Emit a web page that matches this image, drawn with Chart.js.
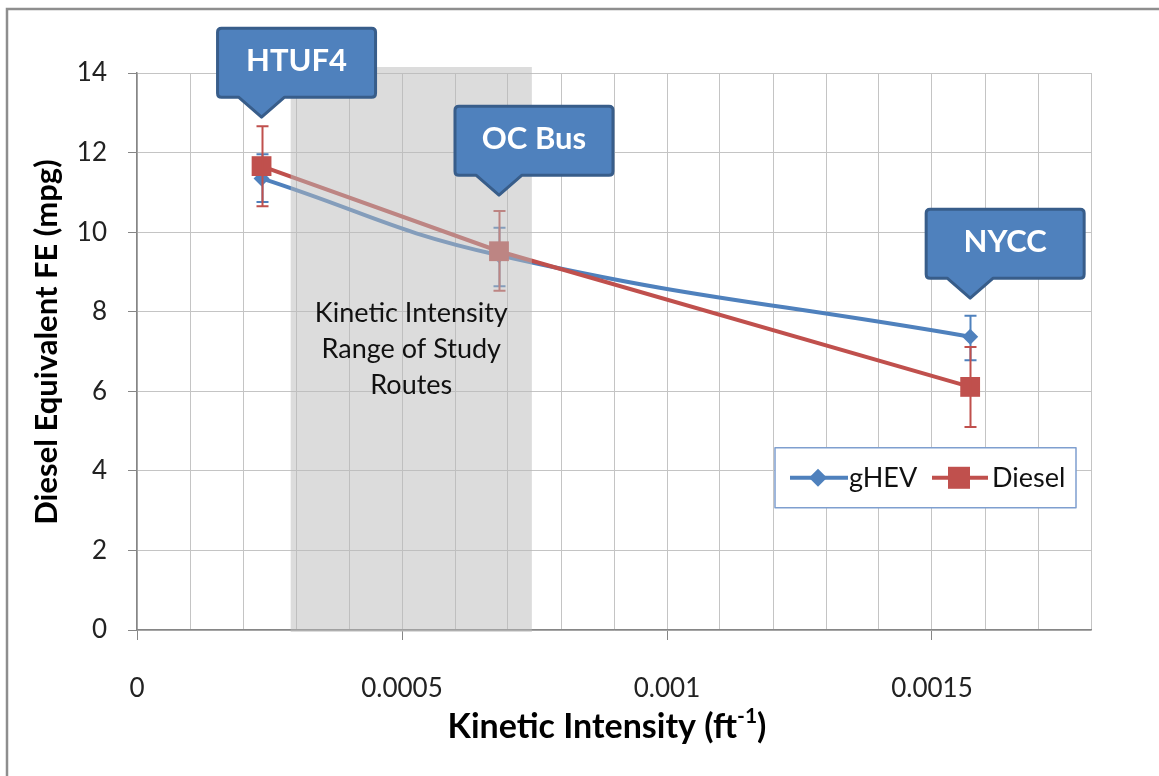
<!DOCTYPE html>
<html>
<head>
<meta charset="utf-8">
<script src="https://cdn.jsdelivr.net/npm/chart.js@4/dist/chart.umd.min.js"></script>
<style>
  html, body { margin: 0; padding: 0; background: #ffffff; }
  #wrap { width: 1159px; height: 776px; }
</style>
</head>
<body>
<div id="wrap"><canvas id="c" width="1159" height="776"></canvas></div>
<script>
// ---- Data ----
const routes = ['HTUF4', 'OC Bus', 'NYCC'];
const kineticIntensity = [0.000235, 0.000683, 0.001572];
const gHEV = [11.35, 9.42, 7.37];
const gHEVHigh = [11.96, 10.11, 7.90];
const gHEVLow = [10.76, 8.64, 6.78];
const diesel = [11.66, 9.52, 6.11];
const dieselHigh = [12.66, 10.53, 7.11];
const dieselLow = [10.65, 8.53, 5.10];
const calloutTip = [12.89, 10.93, 8.34];
const studyRange = [0.00029, 0.000745];
const studyRangeLabel = ['Kinetic Intensity', 'Range of Study', 'Routes'];
const xTickValues = [0, 0.0005, 0.001, 0.0015];
const xTickLabels = ['0', '0.0005', '0.001', '0.0015'];
const seriesNames = ['gHEV', 'Diesel'];

// ---- Styles ----
const BLUE = '#4f81bd';
const RED = '#c0504d';
const FONT = 'Lato, "Open Sans", sans-serif';
const GRID = '#c4c4c4';
const AXIS = '#868686';

const toPts = (ys) => kineticIntensity.map((x, i) => ({ x: x, y: ys[i] }));

const errorBars = {
  0: { hi: gHEVHigh, lo: gHEVLow, color: BLUE },
  1: { hi: dieselHigh, lo: dieselLow, color: RED }
};

const customPlugin = {
  id: 'custom',
  beforeDraw(chart) {
    const ctx = chart.ctx;
    ctx.save();
    ctx.fillStyle = '#ffffff';
    ctx.fillRect(0, 0, chart.width, chart.height);
    ctx.strokeStyle = '#8e8e8e';
    ctx.lineWidth = 2.5;
    ctx.beginPath();
    ctx.moveTo(7, chart.height);
    ctx.lineTo(7, 9);
    ctx.lineTo(chart.width, 9);
    ctx.stroke();
    ctx.restore();
  },
  afterDatasetDraw(chart, args) {
    const eb = errorBars[args.index];
    if (!eb) return;
    const ctx = chart.ctx, xs = chart.scales.x, ys = chart.scales.y;
    ctx.save();
    ctx.strokeStyle = eb.color;
    ctx.lineWidth = 2;
    kineticIntensity.forEach((xv, i) => {
      const px = Math.round(xs.getPixelForValue(xv)) + 0.5;
      const yh = ys.getPixelForValue(eb.hi[i]);
      const yl = ys.getPixelForValue(eb.lo[i]);
      ctx.beginPath();
      ctx.moveTo(px, yh); ctx.lineTo(px, yl);
      ctx.moveTo(px - 6, yh); ctx.lineTo(px + 6, yh);
      ctx.moveTo(px - 6, yl); ctx.lineTo(px + 6, yl);
      ctx.stroke();
    });
    ctx.restore();
  },
  afterDatasetsDraw(chart) {
    const ctx = chart.ctx, xs = chart.scales.x, ys = chart.scales.y;
    const l = xs.getPixelForValue(studyRange[0]);
    const r = xs.getPixelForValue(studyRange[1]);
    const t = ys.getPixelForValue(14) - 6;
    const b = ys.getPixelForValue(0) + 2;
    ctx.save();
    ctx.fillStyle = 'rgba(186,186,186,0.5)';
    ctx.fillRect(l, t, r - l, b - t);
    ctx.restore();
  },
  afterDraw(chart) {
    const ctx = chart.ctx, xs = chart.scales.x, ys = chart.scales.y, ca = chart.chartArea;
    ctx.save();
    // study range label
    const cx = xs.getPixelForValue((studyRange[0] + studyRange[1]) / 2);
    const cy = ys.getPixelForValue(7.95);
    ctx.fillStyle = '#111111';
    ctx.font = '27px ' + FONT;
    ctx.textAlign = 'center';
    ctx.textBaseline = 'middle';
    studyRangeLabel.forEach((s, i) => ctx.fillText(s, cx, cy + i * 36));

    // callouts
    routes.forEach((name, i) => {
      const tipX = xs.getPixelForValue(kineticIntensity[i]);
      const tipY = ys.getPixelForValue(calloutTip[i]);
      const w = 158, h = 69, ptr = 20, half = 23, offL = 44, rr = 4;
      const left = tipX - offL, right = left + w, bottom = tipY - ptr, top = bottom - h;
      ctx.beginPath();
      ctx.moveTo(left + rr, top);
      ctx.lineTo(right - rr, top);
      ctx.quadraticCurveTo(right, top, right, top + rr);
      ctx.lineTo(right, bottom - rr);
      ctx.quadraticCurveTo(right, bottom, right - rr, bottom);
      ctx.lineTo(tipX + half, bottom);
      ctx.lineTo(tipX, tipY);
      ctx.lineTo(tipX - half, bottom);
      ctx.lineTo(left + rr, bottom);
      ctx.quadraticCurveTo(left, bottom, left, bottom - rr);
      ctx.lineTo(left, top + rr);
      ctx.quadraticCurveTo(left, top, left + rr, top);
      ctx.closePath();
      ctx.fillStyle = BLUE;
      ctx.fill();
      ctx.strokeStyle = '#385d8a';
      ctx.lineWidth = 3;
      ctx.lineJoin = 'round';
      ctx.stroke();
      ctx.fillStyle = '#ffffff';
      ctx.font = 'bold 31px ' + FONT;
      ctx.textAlign = 'center';
      ctx.textBaseline = 'middle';
      ctx.fillText(name, left + w / 2, top + h / 2 - 2);
    });

    // legend
    const lgR = ca.right - 15, lgL = lgR - 301, lgT = ys.getPixelForValue(4.58), lgH = 60;
    ctx.fillStyle = '#ffffff';
    ctx.fillRect(lgL, lgT, lgR - lgL, lgH);
    ctx.strokeStyle = '#7f9fcf';
    ctx.lineWidth = 1.5;
    ctx.strokeRect(lgL, lgT, lgR - lgL, lgH);
    const ly = lgT + lgH / 2;
    ctx.font = '27px ' + FONT;
    ctx.textAlign = 'left';
    ctx.textBaseline = 'middle';
    // gHEV
    ctx.strokeStyle = BLUE; ctx.lineWidth = 4;
    ctx.beginPath(); ctx.moveTo(lgL + 15, ly); ctx.lineTo(lgL + 73, ly); ctx.stroke();
    ctx.fillStyle = BLUE;
    ctx.beginPath();
    const dx = lgL + 43;
    ctx.moveTo(dx, ly - 9); ctx.lineTo(dx + 9, ly); ctx.lineTo(dx, ly + 9); ctx.lineTo(dx - 9, ly); ctx.closePath(); ctx.fill();
    ctx.fillStyle = '#111111';
    ctx.fillText(seriesNames[0], lgL + 74, ly + 1);
    // Diesel
    ctx.strokeStyle = RED;
    ctx.beginPath(); ctx.moveTo(lgL + 157, ly); ctx.lineTo(lgL + 213, ly); ctx.stroke();
    ctx.fillStyle = RED;
    ctx.fillRect(lgL + 173, ly - 11, 22, 22);
    ctx.fillStyle = '#111111';
    ctx.fillText(seriesNames[1], lgL + 217, ly + 1);

    // axis titles
    ctx.fillStyle = '#000000';
    ctx.font = 'bold 31px ' + FONT;
    ctx.textAlign = 'center';
    ctx.textBaseline = 'middle';
    ctx.save();
    ctx.translate(47, 342);
    ctx.rotate(-Math.PI / 2);
    ctx.fillText('Diesel Equivalent FE (mpg)', 0, 0);
    ctx.restore();

    const main = 'Kinetic Intensity (ft', sup = '-1', close = ')';
    ctx.font = 'bold 34px ' + FONT;
    const wMain = ctx.measureText(main).width;
    const wClose = ctx.measureText(close).width;
    ctx.font = 'bold 21px ' + FONT;
    const wSup = ctx.measureText(sup).width;
    const total = wMain + wSup + wClose;
    let x0 = 607 - total / 2;
    const ty = 727;
    ctx.textAlign = 'left';
    ctx.font = 'bold 34px ' + FONT;
    ctx.fillText(main, x0, ty);
    ctx.font = 'bold 21px ' + FONT;
    ctx.fillText(sup, x0 + wMain, ty - 11);
    ctx.font = 'bold 34px ' + FONT;
    ctx.fillText(close, x0 + wMain + wSup, ty);
    ctx.restore();
  }
};

Chart.defaults.font.family = FONT;

new Chart(document.getElementById('c'), {
  type: 'line',
  data: {
    datasets: [
      {
        label: seriesNames[0],
        data: toPts(gHEV),
        borderColor: BLUE,
        backgroundColor: BLUE,
        borderWidth: 4,
        pointStyle: 'rectRot',
        pointRadius: 8,
        pointBorderWidth: 0,
        tension: 0.45,
        order: 2
      },
      {
        label: seriesNames[1],
        data: toPts(diesel),
        borderColor: RED,
        backgroundColor: RED,
        borderWidth: 4,
        pointStyle: 'rect',
        pointRadius: 14,
        pointBorderWidth: 0,
        tension: 0,
        order: 1
      }
    ]
  },
  options: {
    responsive: false,
    devicePixelRatio: 1,
    animation: false,
    layout: { padding: { top: 73, right: 68, left: 0, bottom: 0 } },
    plugins: { legend: { display: false }, tooltip: { enabled: false } },
    scales: {
      x: {
        type: 'linear',
        min: 0,
        max: 0.0018,
        afterFit(s) { s.height = 146; },
        ticks: {
          stepSize: 0.0001,
          autoSkip: false,
          maxRotation: 0,
          padding: 33,
          color: '#222222',
          font: { size: 26, family: FONT },
          callback(v) {
            const i = xTickValues.findIndex(t => Math.abs(t - v) < 1e-9);
            return i >= 0 ? xTickLabels[i] : '';
          }
        },
        grid: {
          color: GRID,
          lineWidth: 1,
          tickLength: 10,
          tickColor(c) {
            const v = c.tick ? c.tick.value : null;
            return v !== null && xTickValues.some(t => Math.abs(t - v) < 1e-9) ? AXIS : 'rgba(0,0,0,0)';
          }
        },
        border: { display: true, color: AXIS, width: 1.5 }
      },
      y: {
        min: 0,
        max: 14,
        afterFit(s) { s.width = 137; },
        ticks: {
          stepSize: 2,
          padding: 21,
          color: '#222222',
          font: { size: 26, family: FONT }
        },
        grid: { color: GRID, lineWidth: 1, tickLength: 9, tickColor: AXIS },
        border: { display: true, color: AXIS, width: 1.5 }
      }
    }
  },
  plugins: [customPlugin]
});
</script>
</body>
</html>
